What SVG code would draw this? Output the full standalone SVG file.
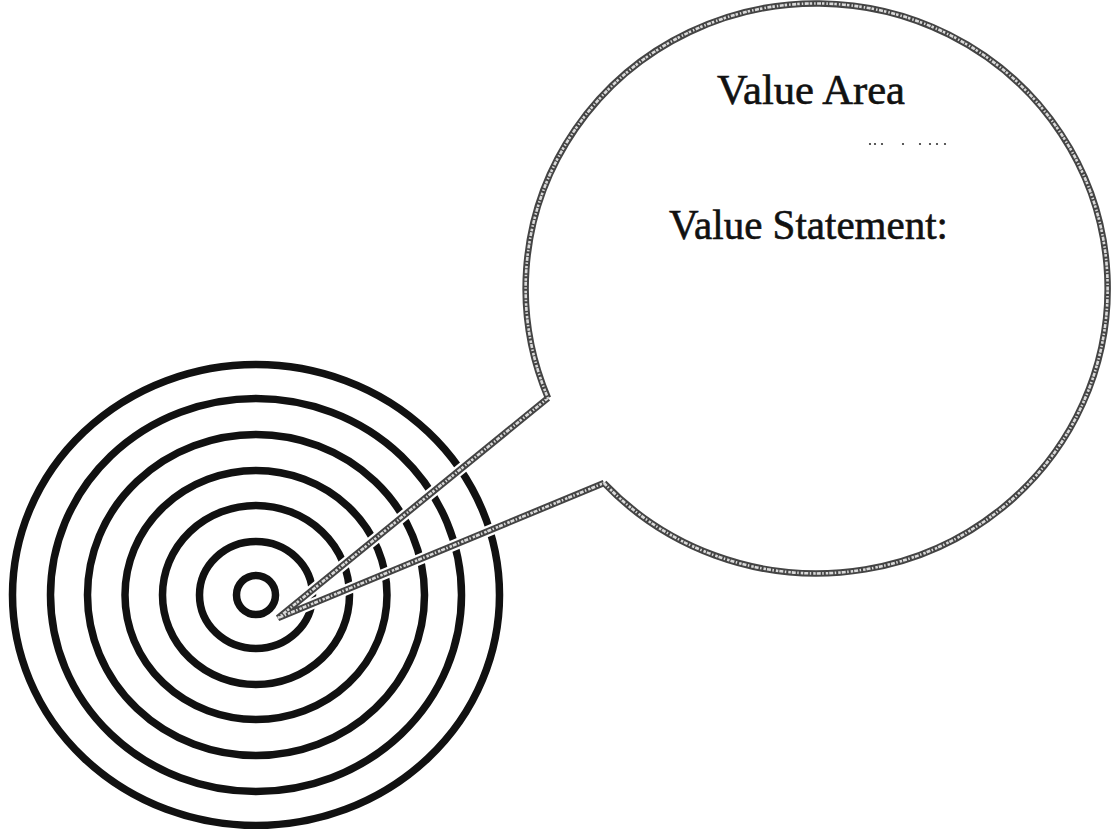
<svg xmlns="http://www.w3.org/2000/svg" width="1114" height="829" viewBox="0 0 1114 829">
<style>
.ring{fill:none;stroke:#111;stroke-width:7.5}
.halo{fill:none;stroke:#fff;stroke-width:11;stroke-linejoin:miter}
.edge{fill:none;stroke:#444;stroke-width:6.5;stroke-linejoin:miter}
.edge-in{fill:none;stroke:#fff;stroke-width:2.6;stroke-opacity:0.8;stroke-dasharray:4 1.5 1.5 2 2.5 1;stroke-linejoin:miter}
.label{font-family:"Liberation Serif","Times New Roman",serif;font-size:42px;fill:#111;stroke:#111;stroke-width:0.6}
.speck{fill:#333}
</style>
<rect width="1114" height="829" fill="#fff"/>
<g id="target">
<ellipse class="ring" cx="256" cy="595" rx="19.5" ry="19.5"/>
<ellipse class="ring" cx="256" cy="595" rx="56.5" ry="53.5"/>
<ellipse class="ring" cx="256" cy="595" rx="93.5" ry="89.5"/>
<ellipse class="ring" cx="256" cy="595" rx="131" ry="124.5"/>
<ellipse class="ring" cx="256" cy="595" rx="168.5" ry="160.5"/>
<ellipse class="ring" cx="256" cy="595" rx="205.5" ry="196.5"/>
<ellipse class="ring" cx="256" cy="595" rx="243.5" ry="230.5"/>
</g>
<g id="connectors">
<polyline class="halo" points="548,398 278,618 604,483"/>
<polyline class="edge" points="548,398 278,618 604,483"/>
<polyline class="edge-in" points="548,398 278,618 604,483"/>
</g>
<g id="bubble">
<path class="edge" d="M604,483 A291,285 0 1 0 548,398"/>
<path class="edge-in" d="M604,483 A291,285 0 1 0 548,398"/>
<text class="label" x="717" y="104" textLength="188" lengthAdjust="spacingAndGlyphs">Value Area</text>
<g class="speck">
<circle cx="870" cy="144" r="1.1"/><circle cx="875" cy="144" r="1.1"/><circle cx="882" cy="144" r="1.1"/>
<circle cx="903" cy="144" r="1.1"/><circle cx="920" cy="144" r="1.1"/><circle cx="930" cy="144" r="1.1"/>
<circle cx="937" cy="144" r="1.1"/><circle cx="945" cy="144" r="1.1"/>
</g>
<text class="label" x="669" y="239" textLength="279" lengthAdjust="spacingAndGlyphs">Value Statement:</text>
</g>
</svg>
